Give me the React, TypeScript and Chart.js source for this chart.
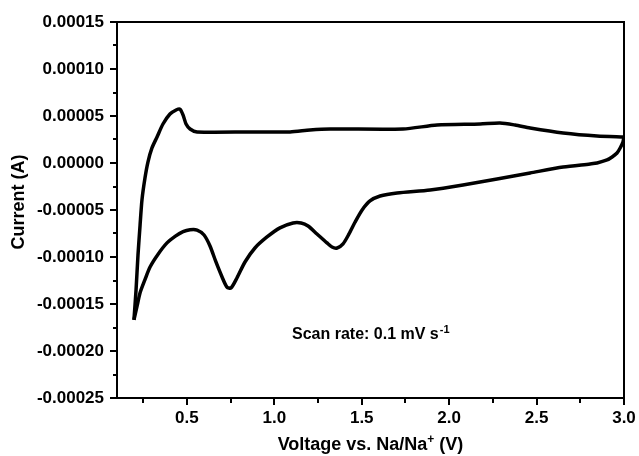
import React, { useEffect, useRef } from 'react';
import { Chart, registerables } from 'chart.js';

Chart.register(...registerables);

// Cathodic sweep: 3.0 V down to 0.2 V (lower branch)
const cathodicV = [3.0, 2.994, 2.978, 2.96, 2.932, 2.903, 2.846, 2.806, 2.652, 2.463, 2.274, 2.079, 1.891, 1.702, 1.605, 1.547, 1.502, 1.462, 1.427, 1.393, 1.359, 1.33, 1.301, 1.244, 1.193, 1.153, 1.107, 1.032, 0.958, 0.889, 0.832, 0.786, 0.752, 0.729, 0.701, 0.666, 0.632, 0.598, 0.558, 0.518, 0.478, 0.432, 0.386, 0.335, 0.289, 0.26, 0.232, 0.215, 0.197];
const cathodicI = [2.77e-5, 2.23e-5, 1.6e-5, 1.06e-5, 0.64e-5, 0.32e-5, 0.0, -0.1e-5, -0.43e-5, -1.06e-5, -1.7e-5, -2.34e-5, -2.87e-5, -3.19e-5, -3.51e-5, -4.04e-5, -5.0e-5, -6.28e-5, -7.55e-5, -8.6e-5, -9.04e-5, -8.94e-5, -8.5e-5, -7.55e-5, -6.7e-5, -6.38e-5, -6.38e-5, -6.9e-5, -7.87e-5, -9.04e-5, -1.053e-4, -1.223e-4, -1.33e-4, -1.32e-4, -1.213e-4, -1.053e-4, -8.83e-5, -7.66e-5, -7.13e-5, -7.1e-5, -7.3e-5, -7.8e-5, -8.5e-5, -9.7e-5, -1.106e-4, -1.24e-4, -1.38e-4, -1.52e-4, -1.67e-4];

// Anodic sweep: 0.2 V back up to 3.0 V (upper branch)
const anodicV = [0.197, 0.209, 0.22, 0.232, 0.243, 0.26, 0.277, 0.3, 0.329, 0.363, 0.403, 0.438, 0.46, 0.478, 0.495, 0.518, 0.558, 0.861, 1.09, 1.204, 1.319, 1.736, 1.931, 2.177, 2.291, 2.377, 2.463, 2.652, 2.846, 3.0];
const anodicI = [-1.67e-4, -1.35e-4, -9.8e-5, -6.6e-5, -3.9e-5, -1.6e-5, 0.1e-5, 1.6e-5, 2.77e-5, 4.15e-5, 5.21e-5, 5.64e-5, 5.74e-5, 5.1e-5, 4.15e-5, 3.62e-5, 3.3e-5, 3.3e-5, 3.3e-5, 3.51e-5, 3.62e-5, 3.62e-5, 4.04e-5, 4.15e-5, 4.26e-5, 4.04e-5, 3.72e-5, 3.19e-5, 2.87e-5, 2.77e-5];

const xMajorTicks = [0.5, 1.0, 1.5, 2.0, 2.5, 3.0];
const xMinorTicks = [0.25, 0.75, 1.25, 1.75, 2.25, 2.75];
const yMajorTicks = [-0.00025, -0.0002, -0.00015, -0.0001, -0.00005, 0, 0.00005, 0.0001, 0.00015];
const yMinorTicks = [-0.000225, -0.000175, -0.000125, -0.000075, -0.000025, 0.000025, 0.000075, 0.000125];

const xTitleMain = 'Voltage vs. Na/Na';
const xTitleSup = '+';
const xTitleEnd = ' (V)';
const yTitle = 'Current (A)';
const noteMain = 'Scan rate: 0.1 mV s';
const noteSup = '-1';

const FONT = "'Liberation Sans', Arial, sans-serif";

const decorPlugin = {
  id: 'decor',
  afterDraw(chart: any) {
    const { ctx, chartArea, scales } = chart;
    const { left, right, top, bottom } = chartArea;
    ctx.save();
    ctx.strokeStyle = '#000';
    ctx.lineWidth = 2;
    // frame top and right
    ctx.beginPath();
    ctx.moveTo(left, top);
    ctx.lineTo(right, top);
    ctx.lineTo(right, bottom);
    ctx.stroke();
    // minor ticks
    ctx.beginPath();
    xMinorTicks.forEach((v) => {
      const px = Math.round(scales.x.getPixelForValue(v));
      ctx.moveTo(px, bottom);
      ctx.lineTo(px, bottom + 5);
    });
    yMinorTicks.forEach((v) => {
      const py = Math.round(scales.y.getPixelForValue(v));
      ctx.moveTo(left, py);
      ctx.lineTo(left - 4, py);
    });
    ctx.stroke();

    ctx.fillStyle = '#000';
    // x title with superscript
    const big = `bold 18px ${FONT}`;
    const small = `bold 12px ${FONT}`;
    ctx.font = big;
    const w1 = ctx.measureText(xTitleMain).width;
    const w3 = ctx.measureText(xTitleEnd).width;
    ctx.font = small;
    const w2 = ctx.measureText(xTitleSup).width;
    const total = w1 + w2 + w3;
    const cx = (left + right) / 2;
    const x0 = cx - total / 2;
    const base = 450;
    ctx.textBaseline = 'alphabetic';
    ctx.textAlign = 'left';
    ctx.font = big;
    ctx.fillText(xTitleMain, x0, base);
    ctx.font = small;
    ctx.fillText(xTitleSup, x0 + w1, base - 7);
    ctx.font = big;
    ctx.fillText(xTitleEnd, x0 + w1 + w2, base);

    // y title rotated
    ctx.save();
    ctx.translate(19, (top + bottom) / 2 - 8);
    ctx.rotate(-Math.PI / 2);
    ctx.textAlign = 'center';
    ctx.textBaseline = 'middle';
    ctx.font = big;
    ctx.fillText(yTitle, 0, 0);
    ctx.restore();

    // annotation
    const nf = `bold 16px ${FONT}`;
    const nfs = `bold 11px ${FONT}`;
    ctx.font = nf;
    const nw = ctx.measureText(noteMain).width;
    const nx = 292;
    const nb = 339;
    ctx.textAlign = 'left';
    ctx.textBaseline = 'alphabetic';
    ctx.fillText(noteMain, nx, nb);
    ctx.font = nfs;
    ctx.fillText(noteSup, nx + nw + 1, nb - 6);
    ctx.restore();
  },
};

export default function App() {
  const ref = useRef<HTMLCanvasElement | null>(null);
  useEffect(() => {
    if (!ref.current) return;
    const cathodic = cathodicV.map((v, i) => ({ x: v, y: cathodicI[i] }));
    const anodic = anodicV.map((v, i) => ({ x: v, y: anodicI[i] }));
    const tickFont = { family: FONT, size: 17, weight: 'bold' as const };
    const chart = new Chart(ref.current, {
      type: 'line',
      data: {
        datasets: [
          {
            label: 'cathodic',
            data: cathodic,
            borderColor: '#000',
            borderWidth: 3.5,
            pointRadius: 0,
            tension: 0.25,
            fill: false,
          },
          {
            label: 'anodic',
            data: anodic,
            borderColor: '#000',
            borderWidth: 3.5,
            pointRadius: 0,
            tension: 0.25,
            fill: false,
          },
        ],
      },
      options: {
        animation: false,
        responsive: false,
        maintainAspectRatio: false,
        layout: { padding: { left: 0, right: 15, top: 22, bottom: 0 } },
        plugins: { legend: { display: false }, tooltip: { enabled: false }, title: { display: false } },
        scales: {
          x: {
            type: 'linear',
            min: 0.1,
            max: 3.0,
            afterBuildTicks: (s: any) => {
              s.ticks = xMajorTicks.map((value) => ({ value }));
            },
            afterFit: (s: any) => {
              s.height = 58;
            },
            ticks: {
              autoSkip: false,
              maxRotation: 0,
              color: '#000',
              font: tickFont,
              padding: 3,
              callback: (v: any) => Number(v).toFixed(1),
            },
            grid: { display: true, drawOnChartArea: false, drawTicks: true, tickLength: 7, color: '#000', lineWidth: 2 },
            border: { display: true, color: '#000', width: 2 },
          },
          y: {
            type: 'linear',
            min: -0.00025,
            max: 0.00015,
            afterBuildTicks: (s: any) => {
              s.ticks = yMajorTicks.map((value) => ({ value }));
            },
            afterFit: (s: any) => {
              s.width = 117;
            },
            ticks: {
              autoSkip: false,
              color: '#000',
              font: tickFont,
              padding: 6,
              callback: (v: any) => Number(v).toFixed(5),
            },
            grid: { display: true, drawOnChartArea: false, drawTicks: true, tickLength: 7, color: '#000', lineWidth: 2 },
            border: { display: true, color: '#000', width: 2 },
          },
        },
      },
      plugins: [decorPlugin],
    });
    return () => chart.destroy();
  }, []);
  return (
    <div style={{ position: 'fixed', left: 0, top: 0, width: 639, height: 456, background: '#fff' }}>
      <canvas ref={ref} width={639} height={456} style={{ width: 639, height: 456, display: 'block' }} />
    </div>
  );
}
